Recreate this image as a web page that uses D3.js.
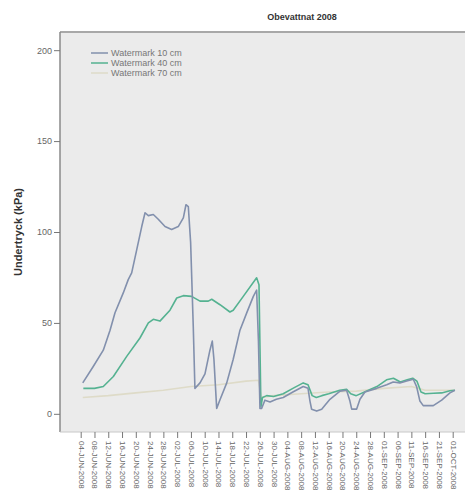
<!DOCTYPE html>
<html><head><meta charset="utf-8">
<script src="https://cdn.jsdelivr.net/npm/d3@7/dist/d3.min.js"></script>
<style>body{margin:0;background:#fff}svg{display:block}</style>
</head><body><svg id="c" width="465" height="496"></svg>
<script>
const title = "Obevattnat 2008";
const yLabel = "Undertryck (kPa)";
const yTicks = [0, 50, 100, 150, 200];
const categories = ["04-JUN-2008","08-JUN-2008","12-JUN-2008","16-JUN-2008","20-JUN-2008","24-JUN-2008","28-JUN-2008",
  "02-JUL-2008","06-JUL-2008","10-JUL-2008","14-JUL-2008","18-JUL-2008","22-JUL-2008","26-JUL-2008","30-JUL-2008",
  "04-AUG-2008","08-AUG-2008","12-AUG-2008","16-AUG-2008","20-AUG-2008","24-AUG-2008","28-AUG-2008",
  "01-SEP-2008","06-SEP-2008","11-SEP-2008","16-SEP-2008","21-SEP-2008","01-OCT-2008"];
const seriesNames = ["Watermark 10 cm","Watermark 40 cm","Watermark 70 cm"];
// [category position, kPa]
const wm10 = [[0.15,17],[0.91,26],[1.64,35],[2.13,46],[2.49,55.6],[3.09,66.5],[3.45,73.8],[3.7,77.5],[4.06,90],[4.43,103],
  [4.67,110.6],[4.91,109],[5.27,109.6],[5.63,107],[6.12,103],[6.6,101.4],[7.08,103],[7.45,107.8],[7.64,115],[7.81,114],
  [7.98,94],[8.17,48],[8.29,14],[8.66,17],[9.02,22],[9.38,35],[9.55,40],[9.67,30],[9.87,3],[10.11,7.7],[10.6,17],
  [11.07,30],[11.56,46],[12.05,55.5],[12.53,64.6],[12.77,68],[12.9,40],[13.01,3],[13.13,3],[13.37,7.5],[13.74,6.5],
  [14.2,8],[14.7,9],[15.4,12],[16.15,15],[16.5,14],[16.64,7],[16.76,2.5],[17.13,1.5],[17.49,2.5],[18.09,8],[18.82,12.5],
  [19.3,13],[19.54,7],[19.67,2.6],[20.03,2.6],[20.27,8],[20.63,12],[21.48,14],[22.21,16],[22.68,17.5],[23.17,17],
  [23.66,18],[24.14,19],[24.38,15],[24.62,7],[24.86,4.5],[25.59,4.5],[26.2,7.5],[26.8,11.5],[27.16,13]];
const wm40 = [[0.19,14],[1.0,14],[1.64,15],[2.37,20.5],[3.34,31.6],[4.3,41.7],[4.91,50],[5.27,52],[5.75,51],[6.48,57],
  [6.97,63.7],[7.45,65],[8.05,64.6],[8.66,62],[9.26,62],[9.51,63],[10.11,60],[10.83,56],[11.07,57],[11.8,64.6],
  [12.77,74.8],[12.94,71],[13.08,4],[13.2,9],[13.5,10],[14,9.5],[14.7,11],[15.4,14],[16.15,17],[16.5,16],[16.8,10],
  [17.1,9],[17.5,10],[18,11],[18.8,13],[19.3,13.5],[19.6,11],[20,10],[20.6,12],[21.5,15],[22.2,18.7],[22.7,19.6],
  [23.2,17.5],[23.7,18.7],[24.1,19.6],[24.4,18],[24.7,12],[25,11],[25.6,11.3],[26.2,11.5],[26.8,12.7],[27.16,13]];
const wm70 = [[0.15,9],[2,10],[4,11.5],[6,13],[8,15],[10,16],[12,18],[12.9,18.5],[13.1,9],[14,10],[16,11],[18,12],
  [20,12.5],[22,14],[24,15],[25,13],[27.16,13]];
const seriesData = [wm10, wm40, wm70];
const colors = ["#8290ad", "#55b291", "#dedbc8"];

const svg = d3.select("#c");
const L = 60, T = 32, R = 466, B = 432;
const x = d3.scaleLinear().domain([0, categories.length - 1]).range([80.7, 452.7]);
const y = d3.scaleLinear().domain([-10, 210]).range([B, T]);

svg.append("rect").attr("x", L).attr("y", T).attr("width", R - L).attr("height", B - T).attr("fill", "#ebebeb");
svg.append("line").attr("x1", L).attr("x2", R).attr("y1", T).attr("y2", T).attr("stroke", "#a8a8a8").attr("stroke-width", 2);
svg.append("line").attr("x1", L).attr("x2", L).attr("y1", T).attr("y2", B).attr("stroke", "#8a8a8a").attr("stroke-width", 1.5);
svg.append("line").attr("x1", L).attr("x2", R).attr("y1", B).attr("y2", B).attr("stroke", "#c8c8c8").attr("stroke-width", 1);

const yAxis = svg.append("g").attr("transform", `translate(${L},0)`)
  .call(d3.axisLeft(y).tickValues(yTicks).tickSize(6).tickPadding(2));
yAxis.select(".domain").remove();
yAxis.selectAll("line").attr("stroke", "#777");
yAxis.selectAll("text").attr("fill", "#666").style("font", "9px 'Liberation Sans', Arial, sans-serif");

const xAxis = svg.append("g").attr("transform", `translate(0,${B})`)
  .call(d3.axisBottom(x).tickValues(d3.range(categories.length)).tickFormat(i => categories[i]).tickSize(6));
xAxis.select(".domain").remove();
xAxis.selectAll("line").attr("stroke", "#777");
xAxis.selectAll("text").attr("fill", "#666").style("font", "8px 'Liberation Sans', Arial, sans-serif")
  .attr("transform", "rotate(90)").attr("text-anchor", "start").attr("x", 9).attr("y", 0).attr("dy", "0.32em");

const line = d3.line().x(d => x(d[0])).y(d => y(d[1]));
[2, 1, 0].forEach(k => {
  svg.append("path").datum(seriesData[k]).attr("d", line).attr("fill", "none")
    .attr("stroke", colors[k]).attr("stroke-width", 1.6).attr("stroke-linejoin", "round");
});

const lg = svg.append("g");
seriesNames.forEach((n, k) => {
  const yy = 53 + k * 10;
  lg.append("line").attr("x1", 91).attr("x2", 108).attr("y1", yy).attr("y2", yy).attr("stroke", colors[k]).attr("stroke-width", 1.5);
  lg.append("text").attr("x", 111).attr("y", yy).attr("dy", "0.35em").attr("fill", "#777")
    .style("font", "9px 'Liberation Sans', Arial, sans-serif").text(n);
});

svg.append("text").attr("x", 302).attr("y", 20).attr("text-anchor", "middle").attr("fill", "#333")
  .style("font", "bold 9px 'Liberation Sans', Arial, sans-serif").text(title);
svg.append("text").attr("transform", `translate(22,${y(100)}) rotate(-90)`).attr("text-anchor", "middle")
  .attr("fill", "#333").style("font", "bold 11px 'Liberation Sans', Arial, sans-serif").text(yLabel);
</script></body></html>
